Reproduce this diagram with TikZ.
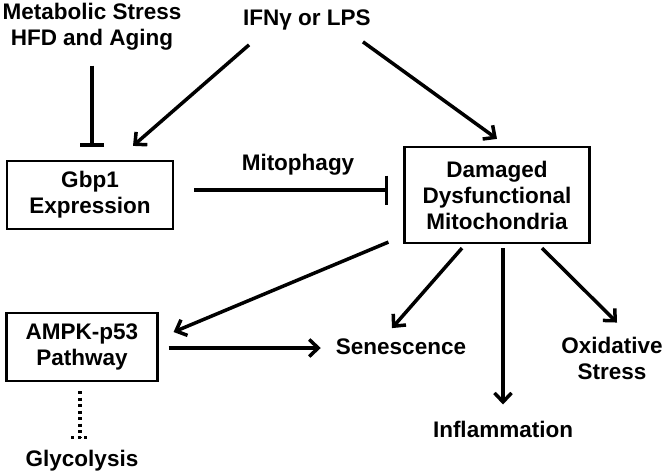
\documentclass[tikz,border=0pt]{standalone}
\usepackage{fontspec}
\setmainfont{Liberation Sans}
\usetikzlibrary{arrows.meta,calc}
\begin{document}
\begin{tikzpicture}[x=1pt,y=-1pt,
  every node/.style={font=\bfseries\fontsize{22.5}{26}\selectfont, align=center, inner sep=0pt},
  box/.style={draw, line width=2.2pt},
  conn/.style={line width=3.5pt},
  arr/.style={conn, -{Straight Barb[length=9pt,width=17pt,line width=3.5pt]}},
  inh/.style={conn, -{Bar[width=24pt,line width=3.5pt]}},
  inhbig/.style={conn, -{Bar[width=29pt,line width=3.5pt]}},
  dots/.style={line width=3.5pt, dash pattern=on 3pt off 3.5pt}]
\useasboundingbox (0,0) rectangle (666,474);

\node (metab) at (92,27) {Metabolic Stress\\HFD and Aging};
\node[anchor=base] (ifn) at (307,25) {IFNγ or LPS};
\node[box, minimum width=166pt, minimum height=68pt] (gbp) at (90,195) {Gbp1\\Expression};
\node[anchor=base] (mitoph) at (298,170) {Mitophagy};
\node[box, minimum width=185pt, minimum height=96pt] (dmg) at (497,195) {Damaged\\Dysfunctional\\Mitochondria};
\node[box, minimum width=151pt, minimum height=68pt] (ampk) at (82,347) {AMPK-p53\\Pathway};
\node[anchor=base] (sen) at (401,354) {Senescence};
\node[anchor=base] (infl) at (503,437) {Inflammation};
\node (oxi) at (612,358) {Oxidative\\Stress};
\node[anchor=base] (glyc) at (82,466) {Glycolysis};

% Metabolic stress inhibits Gbp1
\draw[inh] ($(metab.south)+(0,15)$) -- ($(metab.south |- gbp.north)+(0,-13)$);
% IFN arrows
\draw[arr] ($(ifn.south west)+(6,15)$) -- ($(gbp.north)+(43,-14)$);
\draw[arr] ($(ifn.south east)+(-8,12)$) -- ($(dmg.north)+(0,-7)$);
% Mitophagy inhibition
\draw[inhbig] ($(gbp.east)+(20,-5)$) -- ($(dmg.west)+(-15,-5)$);
% Damaged -> AMPK
\draw[arr] ($(dmg.south west)+(-15,-2)$) -- ($(ampk.east)+(15,-15)$);
% AMPK -> Senescence
\draw[arr] ($(ampk.east)+(10,1)$) -- ($(sen.west |- ampk.east)+(-15,1)$);
% Damaged -> outcomes
\draw[arr] ($(dmg.south)+(-35,4)$) -- ($(sen.north)+(-9,-10)$);
\draw[arr] ($(dmg.south)+(6,4)$) -- ($(infl.north)+(0,-16)$);
\draw[arr] ($(dmg.south)+(45,4)$) -- ($(oxi.north)+(5,-14)$);
% AMPK ... Glycolysis (dotted inhibition)
\draw[dots] ($(ampk.south)+(-2,9)$) -- ($(glyc.north)+(-2,-12)$) ++(-9,0) -- ++(18,0);
\end{tikzpicture}
\end{document}
